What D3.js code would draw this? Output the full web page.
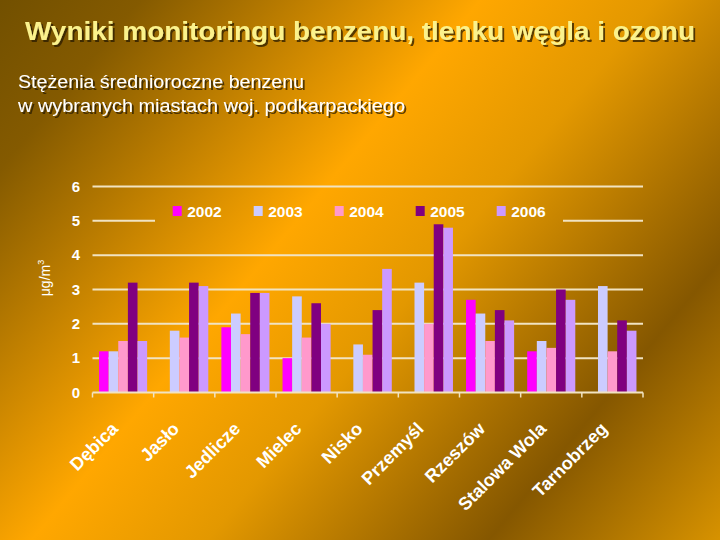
<!DOCTYPE html>
<html>
<head>
<meta charset="utf-8">
<script src="https://cdn.jsdelivr.net/npm/d3@7"></script>
<style>
  html, body { margin: 0; padding: 0; background: #000; }
  svg { display: block; font-family: Arial, "Liberation Sans", sans-serif; }
</style>
</head>
<body>
<div id="chart"></div>
<script>
// chart data
const categories = ["Dębica", "Jasło", "Jedlicze", "Mielec", "Nisko", "Przemyśl", "Rzeszów", "Stalowa Wola", "Tarnobrzeg"];
const years = ["2002", "2003", "2004", "2005", "2006"];
const values2002 = [1.2, null, 1.9, 1.0, null, null, 2.7, 1.2, null];
const values2003 = [1.2, 1.8, 2.3, 2.8, 1.4, 3.2, 2.3, 1.5, 3.1];
const values2004 = [1.5, 1.6, 1.7, 1.6, 1.1, 2.0, 1.5, 1.3, 1.2];
const values2005 = [3.2, 3.2, 2.9, 2.6, 2.4, 4.9, 2.4, 3.0, 2.1];
const values2006 = [1.5, 3.1, 2.9, 2.0, 3.6, 4.8, 2.1, 2.7, 1.8];
const yTicks = [0, 1, 2, 3, 4, 5, 6];
const colors = ["#FF00FF", "#CCCCFF", "#FF99CC", "#800080", "#CC99FF"];

const series = [values2002, values2003, values2004, values2005, values2006];

const width = 720, height = 540;
const svg = d3.select("#chart").append("svg")
  .attr("width", width)
  .attr("height", height);

const defs = svg.append("defs");

// background gradient
const grad = defs.append("linearGradient")
  .attr("id", "bg")
  .attr("gradientUnits", "userSpaceOnUse")
  .attr("x1", 0).attr("y1", 0)
  .attr("x2", 693).attr("y2", 576);
[[0, "#725000"], [0.12, "#845a00"], [0.41, "#ffa700"], [0.56, "#e39800"], [0.8, "#855700"], [1, "#d89300"]]
  .forEach(s => grad.append("stop").attr("offset", s[0]).attr("stop-color", s[1]));

const shadow = defs.append("filter").attr("id", "shadow")
  .attr("x", "-5%").attr("y", "-20%").attr("width", "110%").attr("height", "160%");
shadow.append("feDropShadow")
  .attr("dx", 2).attr("dy", 2).attr("stdDeviation", 0.6)
  .attr("flood-color", "#2a1a00").attr("flood-opacity", 0.75);

svg.append("rect")
  .attr("width", width).attr("height", height)
  .attr("fill", "url(#bg)");

// titles
svg.append("text")
  .attr("x", 25).attr("y", 39.5)
  .attr("textLength", 670).attr("lengthAdjust", "spacingAndGlyphs")
  .attr("font-size", 25).attr("font-weight", "bold")
  .attr("fill", "#fbf28c")
  .attr("filter", "url(#shadow)")
  .text("Wyniki monitoringu benzenu, tlenku węgla i ozonu");

const subtitle = ["Stężenia średnioroczne benzenu", "w wybranych miastach woj. podkarpackiego"];
const subLengths = [286, 387];
svg.selectAll("text.sub")
  .data(subtitle)
  .enter().append("text")
  .attr("class", "sub")
  .attr("x", 18)
  .attr("y", (d, i) => 87.5 + i * 24)
  .attr("textLength", (d, i) => subLengths[i])
  .attr("lengthAdjust", "spacingAndGlyphs")
  .attr("font-size", 17.5)
  .attr("fill", "#ffffff")
  .attr("filter", "url(#shadow)")
  .text(d => d);

// scales
const x0 = d3.scaleBand().domain(categories).range([92.5, 643]);
const x1 = d3.scaleBand().domain(years).range([0, x0.bandwidth()]).paddingOuter(0.68);
const y = d3.scaleLinear().domain([0, 6]).range([392.5, 186.5]);

// legend area (grid line is cut there)
const legendX = d3.scaleBand().domain(years).range([172.7, 577.7]);
const mask = defs.append("mask").attr("id", "gridMask");
mask.append("rect").attr("width", width).attr("height", height).attr("fill", "#fff");
mask.append("rect").attr("x", 155).attr("y", 200).attr("width", 408).attr("height", 22).attr("fill", "#000");

// grid lines
svg.append("g")
  .attr("mask", "url(#gridMask)")
  .selectAll("line")
  .data(yTicks.filter(d => d > 0))
  .enter().append("line")
  .attr("x1", 92.5).attr("x2", 643)
  .attr("y1", d => y(d)).attr("y2", d => y(d))
  .attr("stroke", "#f1e3c2")
  .attr("stroke-width", 2);

// y axis labels
const yAxis = svg.append("g")
  .attr("transform", "translate(92.5,0)")
  .call(d3.axisLeft(y).tickValues(yTicks).tickSize(0).tickPadding(12.5).tickFormat(d3.format("d")));
yAxis.select(".domain").remove();
yAxis.selectAll("text")
  .attr("font-size", 15).attr("font-weight", "bold")
  .attr("font-family", "Arial, 'Liberation Sans', sans-serif")
  .attr("fill", "#ffffff");

// unit label
const unit = svg.append("text")
  .attr("transform", "translate(50,278) rotate(-90)")
  .attr("text-anchor", "middle")
  .attr("font-size", 14)
  .attr("fill", "#ffffff")
  .text("μg/m");
unit.append("tspan")
  .attr("font-size", 9)
  .attr("dy", -6)
  .text("3");

// bars
const groups = svg.append("g").selectAll("g")
  .data(categories)
  .enter().append("g")
  .attr("transform", d => `translate(${x0(d)},0)`);

groups.selectAll("rect")
  .data((c, ci) => years.map((yr, si) => ({ year: yr, value: series[si][ci], color: colors[si] })).filter(d => d.value != null))
  .enter().append("rect")
  .attr("x", d => x1(d.year))
  .attr("width", x1.bandwidth())
  .attr("y", d => y(d.value))
  .attr("height", d => y(0) - y(d.value))
  .attr("fill", d => d.color);

// x axis line and boundary ticks
const tickPos = categories.map(c => x0(c)).concat([x0.range()[1]]);
svg.append("line")
  .attr("x1", 92.5).attr("x2", 643)
  .attr("y1", y(0)).attr("y2", y(0))
  .attr("stroke", "#f1e3c2").attr("stroke-width", 2);
svg.append("g").selectAll("line")
  .data(tickPos)
  .enter().append("line")
  .attr("x1", d => d).attr("x2", d => d)
  .attr("y1", y(0)).attr("y2", y(0) + 5)
  .attr("stroke", "#f1e3c2").attr("stroke-width", 1.5);

// category labels
svg.append("g").selectAll("text")
  .data(categories)
  .enter().append("text")
  .attr("transform", d => `translate(${x0(d) + x0.bandwidth() / 2 - 4},430) rotate(-45)`)
  .attr("text-anchor", "end")
  .attr("font-size", 18)
  .attr("font-weight", "bold")
  .attr("fill", "#ffffff")
  .text(d => d);

// legend
const legend = svg.append("g").selectAll("g")
  .data(years)
  .enter().append("g")
  .attr("transform", d => `translate(${legendX(d)},0)`);
legend.append("rect")
  .attr("y", 206).attr("width", 9).attr("height", 10)
  .attr("fill", (d, i) => colors[i]);
legend.append("text")
  .attr("x", 14.5).attr("y", 216.5)
  .attr("font-size", 15.5).attr("font-weight", "bold")
  .attr("fill", "#ffffff")
  .text(d => d);
</script>
</body>
</html>
